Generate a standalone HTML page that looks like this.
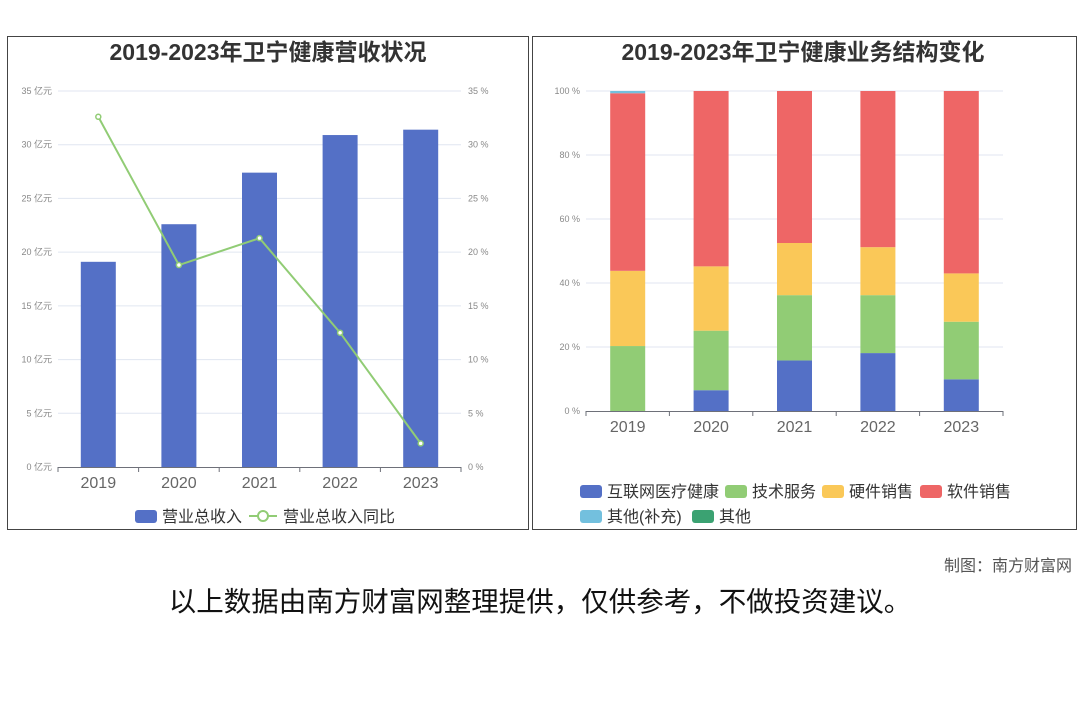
<!DOCTYPE html>
<html><head><meta charset="utf-8"><style>
body{margin:0;width:1080px;height:720px;background:#fff;overflow:hidden;font-family:"Liberation Sans","Noto Sans CJK SC",sans-serif;}
svg{position:absolute;left:0;top:0}
.note{position:absolute;right:8px;top:552px;font-size:16px;color:#555}
.disc{position:absolute;left:0;width:1080px;top:579px;text-align:center;font-size:27.5px;color:#111}
</style></head><body>
<svg id="c" width="1080" height="720"></svg>
<div class="note">制图：南方财富网</div>
<div class="disc">以上数据由南方财富网整理提供，仅供参考，不做投资建议。</div>
<script>
const years=["2019","2020","2021","2022","2023"];
const revenue=[19.1,22.6,27.4,30.9,31.4];
const growth=[32.6,18.8,21.3,12.5,2.2];
const leftTicks=[0,5,10,15,20,25,30,35];
const internet=[0,6.5,15.8,18.1,9.9];
const tech=[20.3,18.6,20.4,18.1,18.0];
const hardware=[23.5,20.1,16.3,15.0,15.1];
const software=[55.5,54.8,47.5,48.8,57.0];
const otherSup=[0.7,0,0,0,0];
const otherSeg=[0,0,0,0,0];
const rightTicks=[0,20,40,60,80,100];
const segNames=["互联网医疗健康","技术服务","硬件销售","软件销售","其他(补充)","其他"];
const segColors=["#5470c6","#91cc75","#fac858","#ee6666","#73c0de","#3ba272"];
const segData=[internet,tech,hardware,software,otherSup,otherSeg];

const svg=document.getElementById('c');const NS='http://www.w3.org/2000/svg';
function mk(t,a,p,txt){const e=document.createElementNS(NS,t);for(const k in a)e.setAttribute(k,a[k]);if(txt!==undefined)e.textContent=txt;(p||svg).appendChild(e);return e;}
const F='"Liberation Sans","Noto Sans CJK SC",sans-serif';

let p1=mk('rect',{x:7.5,y:36.5,width:521,height:493,fill:'none',stroke:'#444'});


let p2=mk('rect',{x:532.5,y:36.5,width:544,height:493,fill:'none',stroke:'#444'});



// LEFT CHART
const L={x0:58,x1:461,y0:467,y1:91,max:35};
const ly=v=>L.y0-(v/L.max)*(L.y0-L.y1);
const bw=(L.x1-L.x0)/years.length;
const lx=i=>L.x0+bw*(i+0.5);
let t=mk('text',{x:268,y:60,'text-anchor':'middle','font-size':23,'font-weight':'bold',fill:'#333','font-family':F},svg,'2019-2023年卫宁健康营收状况');


leftTicks.forEach(v=>{
 if(v>0){let g=mk('line',{x1:L.x0,x2:L.x1,y1:ly(v),y2:ly(v),stroke:'#e0e6f1'});}
 let a=mk('text',{x:52,y:ly(v)+3,'text-anchor':'end','font-size':9,fill:'#888','font-family':F},svg,v+' 亿元');
 
 
 let b=mk('text',{x:468,y:ly(v)+3,'font-size':9,fill:'#888','font-family':F},svg,v+' %');
 
 
});
years.forEach((y,i)=>{
 let r=mk('rect',{x:lx(i)-17.5,y:ly(revenue[i]),width:35,height:L.y0-ly(revenue[i]),fill:'#5470c6'});
 
 
 let tx=mk('text',{x:lx(i),y:488,'text-anchor':'middle','font-size':16,fill:'#666','font-family':F},svg,y);
 
 
});
mk('line',{x1:L.x0,x2:L.x1,y1:L.y0+.5,y2:L.y0+.5,stroke:'#6e7079'});
for(let i=0;i<=years.length;i++)mk('line',{x1:L.x0+bw*i,x2:L.x0+bw*i,y1:L.y0,y2:L.y0+5,stroke:'#6e7079'});
let pts=growth.map((g,i)=>lx(i)+','+ly(g)).join(' ');
let pl=mk('polyline',{points:pts,fill:'none',stroke:'#91cc75','stroke-width':2});


growth.forEach((g,i)=>{let c=mk('circle',{cx:lx(i),cy:ly(g),r:2.5,fill:'#fff',stroke:'#91cc75','stroke-width':1.5});});
let lg1=mk('rect',{x:135,y:510,width:22,height:13,rx:3,fill:'#5470c6'});


mk('text',{x:162,y:522,'font-size':16,fill:'#333','font-family':F},svg,'营业总收入');
let lg2=mk('line',{x1:249,x2:277,y1:516,y2:516,stroke:'#91cc75','stroke-width':2});


mk('circle',{cx:263,cy:516,r:5,fill:'#fff',stroke:'#91cc75','stroke-width':2});
mk('text',{x:283,y:522,'font-size':16,fill:'#333','font-family':F},svg,'营业总收入同比');

// RIGHT CHART
const R={x0:586,x1:1003,y0:411,y1:91};
const ry=v=>R.y0-(v/100)*(R.y0-R.y1);
const rbw=(R.x1-R.x0)/years.length;
const rx=i=>R.x0+rbw*(i+0.5);
let t2=mk('text',{x:803,y:60,'text-anchor':'middle','font-size':23,'font-weight':'bold',fill:'#333','font-family':F},svg,'2019-2023年卫宁健康业务结构变化');


rightTicks.forEach(v=>{
 if(v>0){let g=mk('line',{x1:R.x0,x2:R.x1,y1:ry(v),y2:ry(v),stroke:'#e0e6f1'});}
 let a=mk('text',{x:580,y:ry(v)+3,'text-anchor':'end','font-size':9,fill:'#888','font-family':F},svg,v+' %');
 
 
});
years.forEach((y,i)=>{
 let acc=0;
 segData.forEach((s,k)=>{
  const v=s[i];if(v<=0)return;
  let r=mk('rect',{x:rx(i)-17.5,y:ry(acc+v),width:35,height:ry(acc)-ry(acc+v),fill:segColors[k]});
  
  
  acc+=v;
 });
 let tx=mk('text',{x:rx(i),y:432,'text-anchor':'middle','font-size':16,fill:'#666','font-family':F},svg,y);
 
 
});
mk('line',{x1:R.x0,x2:R.x1,y1:R.y0+.5,y2:R.y0+.5,stroke:'#6e7079'});
for(let i=0;i<=years.length;i++)mk('line',{x1:R.x0+rbw*i,x2:R.x0+rbw*i,y1:R.y0,y2:R.y0+5,stroke:'#6e7079'});
const legPos=[[580,485],[725,485],[822,485],[920,485],[580,510],[692,510]];
segNames.forEach((n,k)=>{
 const [x,y]=legPos[k];
 let r=mk('rect',{x:x,y:y,width:22,height:13,rx:3,fill:segColors[k]});
 
 
 mk('text',{x:x+27,y:y+12,'font-size':16,fill:'#333','font-family':F},svg,n);
});
</script>
</body></html>
